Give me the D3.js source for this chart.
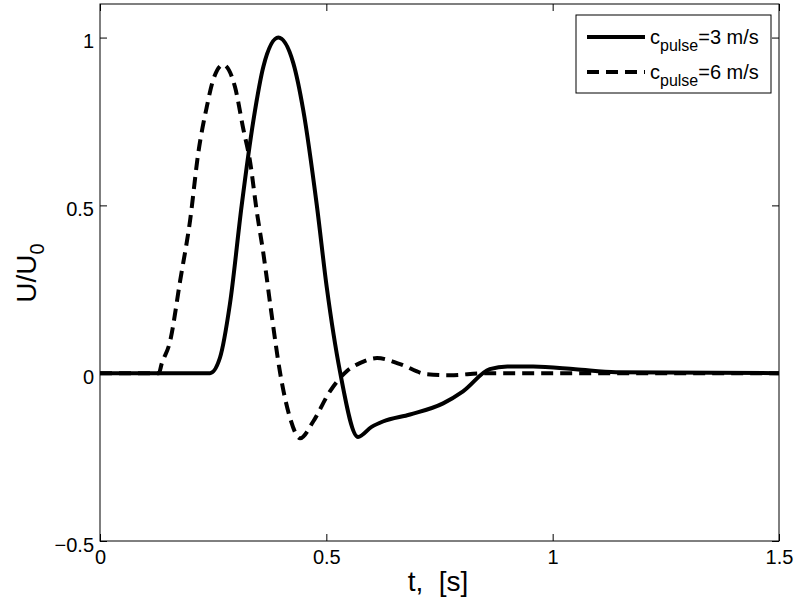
<!DOCTYPE html>
<html>
<head>
<meta charset="utf-8">
<script src="https://cdn.jsdelivr.net/npm/d3@7"></script>
<style>
  body { margin: 0; background: #fff; }
  text { font-family: "Liberation Sans", Arial, sans-serif; fill: #000; }
</style>
</head>
<body>
<svg id="chart"></svg>
<script>
// c_pulse = 3 m/s (solid)
var t3 = [0, 0.243, 0.265, 0.287, 0.313, 0.339, 0.361, 0.394, 0.427, 0.449, 0.479, 0.501, 0.530, 0.570, 0.600, 0.625, 0.685, 0.758, 0.802, 0.861, 0.900, 0.957, 1.05, 1.14, 1.5];
var u3 = [0, 0, 0.046, 0.206, 0.5, 0.754, 0.914, 1.0, 0.924, 0.784, 0.5, 0.255, 0.006, -0.19, -0.16, -0.144, -0.123, -0.09, -0.054, 0.012, 0.02, 0.02, 0.012, 0.003, 0];
// c_pulse = 6 m/s (dashed)
var t6 = [0, 0.13, 0.136, 0.155, 0.177, 0.199, 0.217, 0.236, 0.25, 0.272, 0.298, 0.317, 0.331, 0.346, 0.361, 0.379, 0.398, 0.42, 0.442, 0.471, 0.508, 0.545, 0.574, 0.612, 0.663, 0.722, 0.773, 0.85, 1.5];
var u6 = [0, 0, 0.027, 0.096, 0.275, 0.455, 0.655, 0.794, 0.874, 0.919, 0.854, 0.725, 0.635, 0.485, 0.356, 0.176, 0.0, -0.134, -0.194, -0.144, -0.054, 0.006, 0.03, 0.045, 0.027, -0.003, -0.006, 0, 0];

var xTicks = [0, 0.5, 1, 1.5];
var yTicks = [-0.5, 0, 0.5, 1];
var legendNames = ["3 m/s", "6 m/s"];

var screen = { width: 795, height: 598 };
var margins = { top: 4, bottom: 57, left: 100, right: 16 };
var graph = {
  width: screen.width - margins.left - margins.right,
  height: screen.height - margins.top - margins.bottom
};

var svg = d3.select("#chart").attr("width", screen.width).attr("height", screen.height);

var xScale = d3.scaleLinear().domain([0, 1.5]).range([0, graph.width]);
var yScale = d3.scaleLinear().domain([-0.5, 1.1]).range([graph.height, 0]);

var g = svg.append("g")
  .attr("transform", "translate(" + margins.left + "," + margins.top + ")");

// lines
var line = d3.line()
  .x(function (d) { return xScale(d[0]); })
  .y(function (d) { return yScale(d[1]); })
  .curve(d3.curveMonotoneX);

var s3 = t3.map(function (t, i) { return [t, u3[i]]; });
var s6 = t6.map(function (t, i) { return [t, u6[i]]; });

g.append("path").datum(s6).attr("d", line)
  .attr("fill", "none").attr("stroke", "#000")
  .attr("stroke-width", 4).attr("stroke-dasharray", "12,7");
g.append("path").datum(s3).attr("d", line)
  .attr("fill", "none").attr("stroke", "#000")
  .attr("stroke-width", 4);

// axes (matlab style box, ticks inward)
var tickLen = 7;
var fs = "20px";
var xb = g.append("g").attr("transform", "translate(0," + graph.height + ")")
  .call(d3.axisBottom(xScale).tickValues(xTicks).tickSizeInner(-tickLen).tickSizeOuter(0)
    .tickPadding(9).tickFormat(d3.format("")));
var xt = g.append("g")
  .call(d3.axisTop(xScale).tickValues(xTicks).tickSizeInner(-tickLen).tickSizeOuter(0)
    .tickFormat(""));
var yl = g.append("g")
  .call(d3.axisLeft(yScale).tickValues(yTicks).tickSizeInner(-tickLen).tickSizeOuter(0)
    .tickPadding(6).tickFormat(function (d) { return d < 0 ? "\u2212" + Math.abs(d) : d; }));
var yr = g.append("g").attr("transform", "translate(" + graph.width + ",0)")
  .call(d3.axisRight(yScale).tickValues(yTicks).tickSizeInner(-tickLen).tickSizeOuter(0)
    .tickFormat(""));

[xb, xt, yl, yr].forEach(function (a) {
  a.select(".domain").remove();
  a.selectAll("line").attr("stroke", "#000");
  a.selectAll("text").style("font-size", fs).attr("fill", "#000");
});
xb.selectAll("text").attr("dy", "0.72em");
yl.selectAll("text").attr("dy", "0.5em");

g.append("rect").attr("width", graph.width).attr("height", graph.height)
  .attr("fill", "none").attr("stroke", "#000").attr("stroke-width", 1);

// axis labels
svg.append("text")
  .attr("x", 438).attr("y", 591)
  .attr("text-anchor", "middle").style("font-size", "28px")
  .text("t,  [s]").attr("xml:space", "preserve").style("white-space", "pre");

var yLab = svg.append("text")
  .attr("transform", "translate(36,273) rotate(-90)")
  .attr("text-anchor", "middle").style("font-size", "28px");
yLab.append("tspan").text("U/U");
yLab.append("tspan").attr("dy", 8).style("font-size", "20px").text("0");

// legend
var leg = svg.append("g");
leg.append("rect").attr("x", 576).attr("y", 15).attr("width", 195).attr("height", 78)
  .attr("fill", "#fff").attr("stroke", "#000");
legendNames.forEach(function (name, i) {
  var y = 37 + i * 35;
  leg.append("line").attr("x1", 587).attr("x2", 645).attr("y1", y).attr("y2", y)
    .attr("stroke", "#000").attr("stroke-width", 4)
    .attr("stroke-dasharray", i === 1 ? "12,7" : null);
  var tx = leg.append("text").attr("x", 650).attr("y", y + 7).style("font-size", "20px");
  tx.append("tspan").text("c");
  tx.append("tspan").attr("dy", 7).style("font-size", "16px").text("pulse");
  tx.append("tspan").attr("dy", -7).text("=" + name);
});
</script>
</body>
</html>
